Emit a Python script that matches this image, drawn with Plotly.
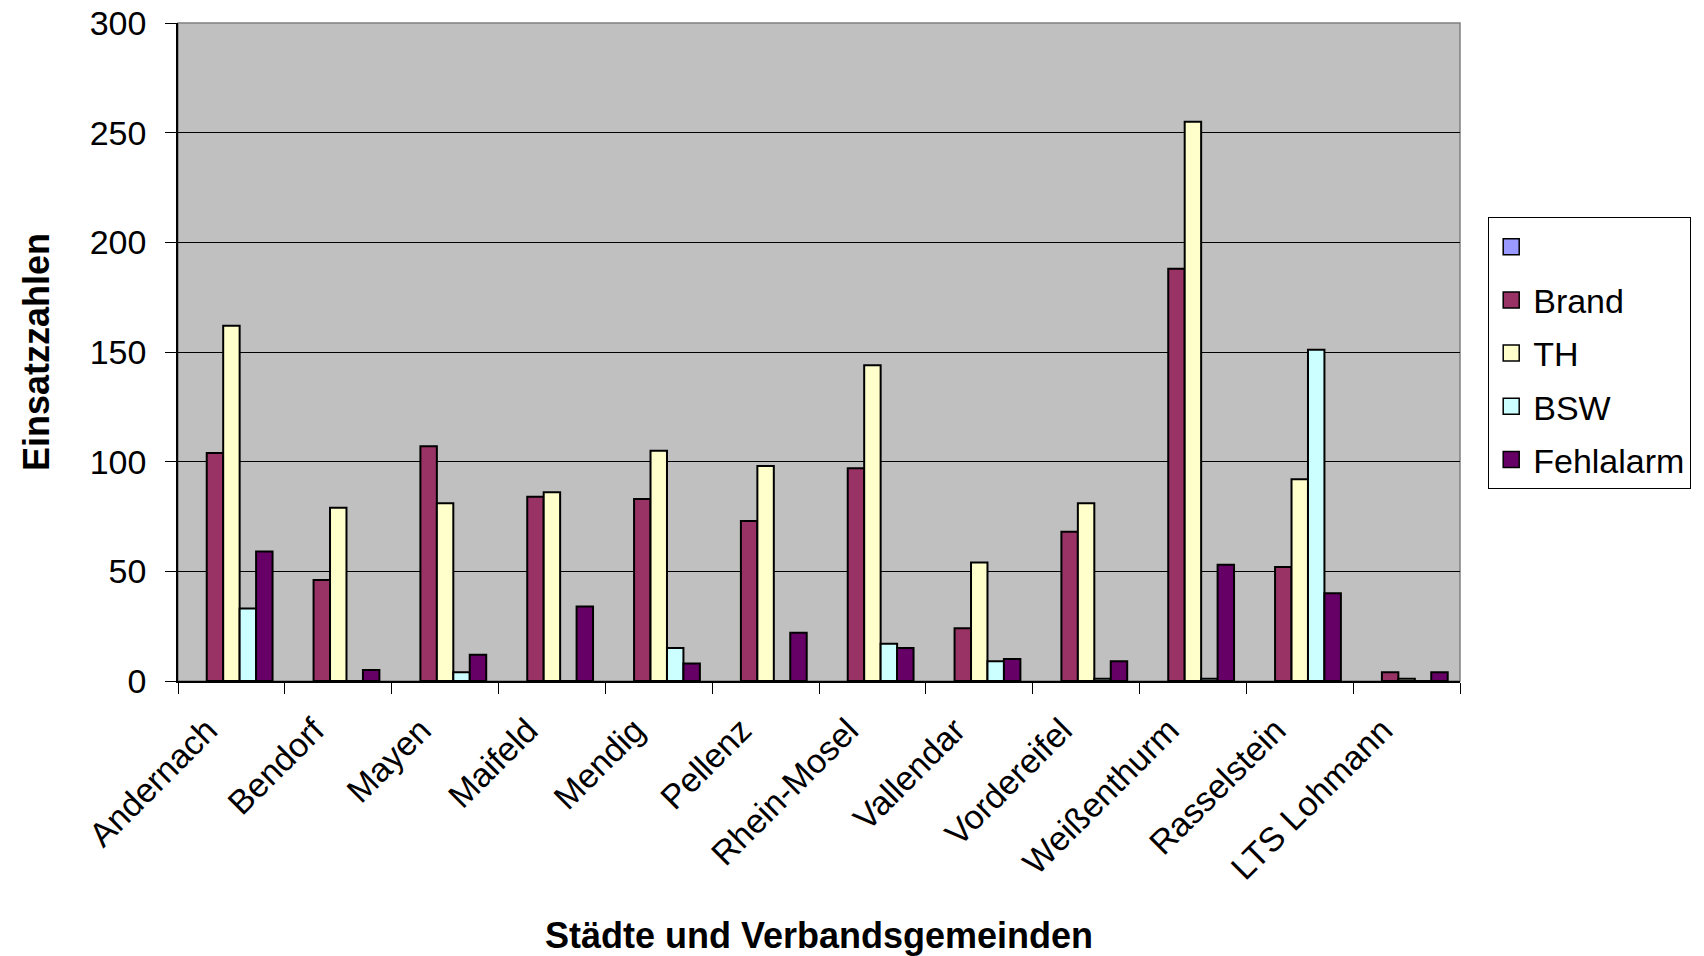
import plotly.graph_objects as go

categories = ["Andernach", "Bendorf", "Mayen", "Maifeld", "Mendig", "Pellenz",
              "Rhein-Mosel", "Vallendar", "Vordereifel", "Weißenthurm",
              "Rasselstein", "LTS Lohmann"]
empty_series = [None] * 12
brand = [104, 46, 107, 84, 83, 73, 97, 24, 68, 188, 52, 4]
th = [162, 79, 81, 86, 105, 98, 144, 54, 81, 255, 92, 1]
bsw = [33, 0, 4, 0, 15, 0, 17, 9, 1, 1, 151, 0]
fehlalarm = [59, 5, 12, 34, 8, 22, 15, 10, 9, 53, 40, 4]

series_names = [" ", "Brand", "TH", "BSW", "Fehlalarm"]
series_values = [empty_series, brand, th, bsw, fehlalarm]
series_colors = ["#9999FF", "#993366", "#FFFFCC", "#CCFFFF", "#660066"]

fig = go.Figure()
for i, (name, vals, color) in enumerate(zip(series_names, series_values, series_colors)):
    fig.add_trace(go.Bar(
        x=categories, y=vals, name=name, legendgroup=f"g{i}", showlegend=False,
        marker=dict(color=color, line=dict(color="black", width=2)),
    ))
# legend entries (square swatches like the original)
for i, (name, color) in enumerate(zip(series_names, series_colors)):
    fig.add_trace(go.Scatter(
        x=[None], y=[None], mode="markers", name=name, legendgroup=f"g{i}",
        marker=dict(symbol="square", size=16, color=color,
                    line=dict(color="black", width=1.5)),
    ))

font_family = "Liberation Sans, Arial, sans-serif"

fig.update_layout(
    width=1704, height=956,
    margin=dict(l=178, r=244, t=23, b=275),
    paper_bgcolor="white",
    plot_bgcolor="#C0C0C0",
    barmode="group",
    bargap=0.23,
    bargroupgap=0,
    font=dict(family=font_family, size=34, color="black"),
    showlegend=True,
    legend=dict(
        x=1.022, xanchor="left", y=0.705, yanchor="top",
        bgcolor="white", bordercolor="black", borderwidth=1,
        font=dict(size=34), tracegroupgap=6, itemwidth=34,
    ),
    xaxis=dict(
        type="category",
        automargin=False,
        tickangle=-45,
        ticks="outside", ticklen=11, tickcolor="black", tickwidth=1,
        tickson="boundaries",
        ticklabelshift=-24, ticklabelstandoff=14,
        showline=True, linecolor="black", linewidth=1.5,
        showgrid=False,
        title=dict(text="<b>Städte und Verbandsgemeinden</b>", font=dict(size=36), standoff=40),
        tickfont=dict(size=34),
    ),
    yaxis=dict(
        automargin=False,
        range=[0, 300], dtick=50,
        ticks="outside", ticklen=11, tickcolor="black", tickwidth=1,
        ticklabelstandoff=12, ticklabeloverflow="allow",
        showline=True, linecolor="black", linewidth=1.5,
        showgrid=True, gridcolor="black", gridwidth=1,
        zeroline=False,
        title=dict(text="<b>Einsatzzahlen</b>", font=dict(size=36), standoff=29),
        tickfont=dict(size=34),
    ),
)

# gray frame on top and right of plot area
fig.add_shape(type="rect", xref="paper", yref="paper", x0=0, x1=1, y0=0, y1=1,
              line=dict(color="#808080", width=1.5), layer="below")

fig.write_html("out.html", config={"displayModeBar": False})

# remove the browser's default 8px body margin so the figure fills the window exactly
with open("out.html", encoding="utf-8") as f:
    html = f.read()
html = html.replace("<body>", '<body style="margin:0;padding:0;overflow:hidden">', 1)
with open("out.html", "w", encoding="utf-8") as f:
    f.write(html)
